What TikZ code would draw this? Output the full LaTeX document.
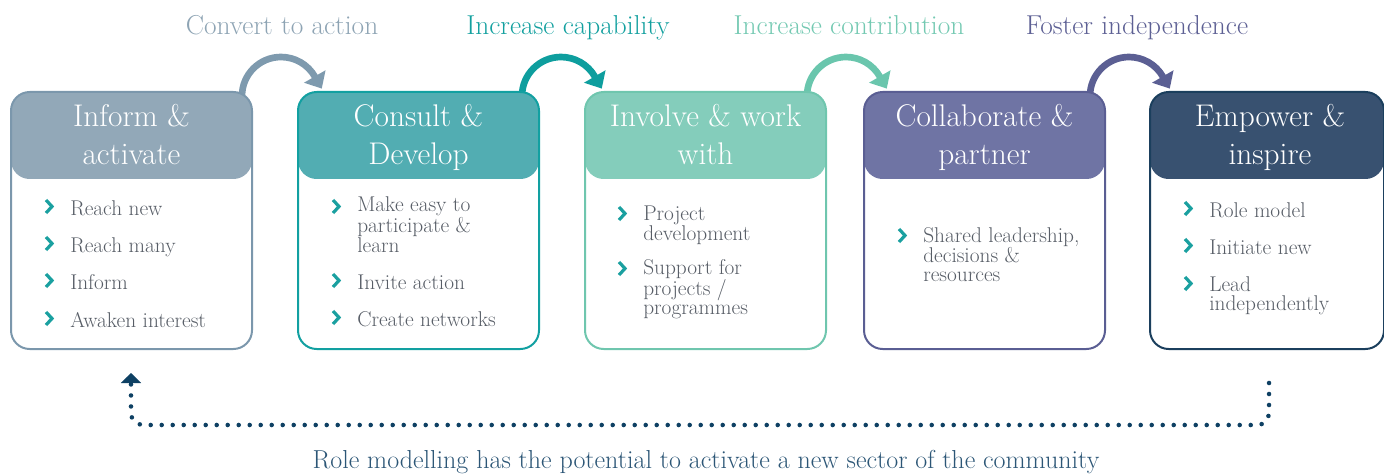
\documentclass[tikz,border=0pt]{standalone}
\usepackage{fontspec}
\usetikzlibrary{arrows.meta}
\definecolor{hA}{HTML}{92A8B8}\definecolor{bA}{HTML}{7B97AC}\definecolor{aA}{HTML}{7E9AAE}\definecolor{lA}{HTML}{8EA4B4}
\definecolor{hB}{HTML}{52ADB2}\definecolor{bB}{HTML}{12A0A1}\definecolor{aB}{HTML}{0E9E9E}\definecolor{lB}{HTML}{13A09F}
\definecolor{hC}{HTML}{84CDBB}\definecolor{bC}{HTML}{6FC6AE}\definecolor{aC}{HTML}{6AC6AD}\definecolor{lC}{HTML}{74C9B2}
\definecolor{hD}{HTML}{6F74A4}\definecolor{bD}{HTML}{5A5E93}\definecolor{aD}{HTML}{5B5F93}\definecolor{lD}{HTML}{5D6094}
\definecolor{hE}{HTML}{385170}\definecolor{bE}{HTML}{1B3F5D}
\definecolor{bodyc}{HTML}{575D66}
\definecolor{chevc}{HTML}{1AA0A0}
\definecolor{dotc}{HTML}{0E4063}
\definecolor{notec}{HTML}{2C5676}
\newcommand\chevxy[2]{\draw[chev] (#1,#2) ++(-24,-15) -- ++(6,6.5) -- ++(-6,6.5);}
\begin{document}
\begin{tikzpicture}[x=0.75pt,y=-0.75pt,
  stage/.style 2 args={draw=#1, fill=white, line width=1.5pt, rounded corners=14pt,
    inner sep=0pt, outer sep=0pt, minimum width=180.75pt, minimum height=192.75pt,
    path picture={\fill[#2] (path picture bounding box.north west) rectangle ([yshift=-65.25pt]path picture bounding box.north east);}},
  htext/.style={anchor=base, inner sep=0pt, align=center, text=white, font=\fontsize{23.5}{28.5}\selectfont},
  btext/.style={anchor=base west, inner sep=0pt, align=left, text=bodyc, font=\fontsize{16}{14.2}\selectfont},
  ltext/.style={anchor=base, inner sep=0pt, text=#1, font=\fontsize{20.5}{24}\selectfont},
  chev/.style={draw=chevc, line width=2.4pt, line join=miter, line cap=butt},
  curarrow/.style={draw=#1, line width=5pt, -{Triangle[length=10.5pt,width=18pt]}},
  dots/.style={draw=dotc, line width=3.4pt, line cap=round, dash pattern=on 0pt off 8.25pt, rounded corners=9pt}
]
\useasboundingbox (0,0) rectangle (1384,474);

% curved arrows (drawn first so the boxes cover their feet)
\coordinate (a1) at (242,96);
\coordinate (a2) at (522,96);
\coordinate (a3) at (807,96);
\coordinate (a4) at (1090,96);
\draw[curarrow=aA] (a1) arc[start angle=180, end angle=330, radius=39] -- ++(7,12.1);
\draw[curarrow=aB] (a2) arc[start angle=180, end angle=330, radius=39] -- ++(7,12.1);
\draw[curarrow=aC] (a3) arc[start angle=180, end angle=330, radius=39] -- ++(7,12.1);
\draw[curarrow=aD] (a4) arc[start angle=180, end angle=330, radius=39] -- ++(7,12.1);

% boxes
\node[stage={bA}{hA}] (b1) at (131.5,220.5) {};
\node[stage={bB}{hB}] (b2) at (418.5,220.5) {};
\node[stage={bC}{hC}] (b3) at (705.5,220.5) {};
\node[stage={bD}{hD}] (b4) at (984.5,220.5) {};
\node[stage={bE}{hE}, minimum width=175.5pt] (b5) at (1267,220.5) {};

% headers (anchored at the baseline of the last line)
\node[htext] (h1) at (131.5,165) {Inform \&\\activate};
\node[htext] (h2) at (418.5,165) {Consult \&\\Develop};
\node[htext] (h3) at (705.5,165) {Involve \& work\\with};
\node[htext] (h4) at (984.5,165) {Collaborate \&\\partner};
\node[htext] (h5) at (1270,165) {Empower \&\\inspire};

% top labels
\node[ltext=lA] (l1) at (282,35) {Convert to action};
\node[ltext=lB] (l2) at (568,35) {Increase capability};
\node[ltext=lC] (l3) at (849,35) {Increase contribution};
\node[ltext=lD] (l4) at (1137,35) {Foster independence};

% body items (anchored at the baseline of their last line)
\node[btext] (i11) at (70,215) {Reach new};
\node[btext] (i12) at (70,252) {Reach many};
\node[btext] (i13) at (70,289) {Inform};
\node[btext] (i14) at (70,327) {Awaken interest};
\node[btext] (i21) at (357,252.9) {Make easy to\\participate \&\\learn};
\node[btext] (i22) at (357,289) {Invite action};
\node[btext] (i23) at (357,326) {Create networks};
\node[btext] (i31) at (643,240.9) {Project\\development};
\node[btext] (i32) at (643,314.9) {Support for\\projects /\\programmes};
\node[btext] (i41) at (923,281.9) {Shared leadership,\\decisions \&\\resources};
\node[btext] (i51) at (1209,217) {Role model};
\node[btext] (i52) at (1209,254) {Initiate new};
\node[btext] (i53) at (1209,310.9) {Lead\\independently};
% bullets at the first baseline of each item
\chevxy{70}{215}\chevxy{70}{252}\chevxy{70}{289}\chevxy{70}{327}
\chevxy{357}{215}\chevxy{357}{289}\chevxy{357}{326}
\chevxy{643}{222}\chevxy{643}{277}
\chevxy{923}{244}
\chevxy{1209}{217}\chevxy{1209}{254}\chevxy{1209}{292}

% dotted return loop
\coordinate (dstart) at (1269,383);
\coordinate (dend) at (131,373);
\draw[dots] (dstart) -- ++(0,42) -| ([yshift=-7.5pt]dend);
\draw[dotc, line width=0.1pt, -{Triangle[length=7.5pt,width=15pt]}] ([yshift=-7.6pt]dend) -- (dend);

\node[anchor=base, inner sep=0pt, text=notec, font=\fontsize{19.5}{22}\selectfont] (note) at (706,468)
  {Role modelling has the potential to activate a new sector of the community};
\end{tikzpicture}
\end{document}
